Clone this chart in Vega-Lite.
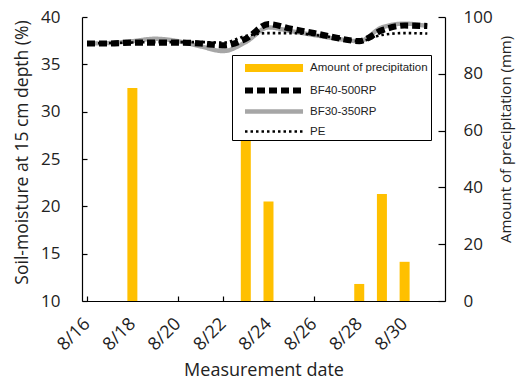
{
  "$schema": "https://vega.github.io/schema/vega-lite/v6.json",
  "width": 363,
  "height": 284,
  "autosize": {"type": "none"},
  "padding": {"left": 82, "top": 17, "right": 73, "bottom": 87},
  "config": {
    "view": {"stroke": null},
    "font": "Open Sans",
    "axis": {
      "grid": false,
      "domainColor": "black",
      "domainWidth": 1.2,
      "tickColor": "black",
      "tickWidth": 1.2,
      "labelColor": "#222222",
      "titleColor": "#222222",
      "labelFontSize": 17,
      "titleFontSize": 17.5,
      "titleFontWeight": "normal",
      "labelFont": "Open Sans",
      "titleFont": "Open Sans"
    },
    "legend": {
      "labelFont": "Liberation Sans",
      "labelFontSize": 11.5,
      "labelColor": "#222222"
    }
  },
  "datasets": {
    "rain": [
      {"day": 18, "series": "Amount of precipitation", "precip": 75},
      {"day": 23, "series": "Amount of precipitation", "precip": 59},
      {"day": 24, "series": "Amount of precipitation", "precip": 35},
      {"day": 28, "series": "Amount of precipitation", "precip": 6},
      {"day": 29, "series": "Amount of precipitation", "precip": 37.7},
      {"day": 30, "series": "Amount of precipitation", "precip": 13.8}
    ],
    "moisture": [
      {"day": 16, "series": "BF30-350RP", "value": 37.2},
      {"day": 17, "series": "BF30-350RP", "value": 37.25},
      {"day": 18, "series": "BF30-350RP", "value": 37.45},
      {"day": 19, "series": "BF30-350RP", "value": 37.7},
      {"day": 20, "series": "BF30-350RP", "value": 37.45},
      {"day": 21, "series": "BF30-350RP", "value": 36.9},
      {"day": 22, "series": "BF30-350RP", "value": 36.4},
      {"day": 23, "series": "BF30-350RP", "value": 37.35},
      {"day": 24, "series": "BF30-350RP", "value": 38.9},
      {"day": 25, "series": "BF30-350RP", "value": 38.5},
      {"day": 26, "series": "BF30-350RP", "value": 38.1},
      {"day": 27, "series": "BF30-350RP", "value": 37.7},
      {"day": 28, "series": "BF30-350RP", "value": 37.45},
      {"day": 29, "series": "BF30-350RP", "value": 38.9},
      {"day": 30, "series": "BF30-350RP", "value": 39.3},
      {"day": 31, "series": "BF30-350RP", "value": 39.05},
      {"day": 16, "series": "BF40-500RP", "value": 37.2},
      {"day": 17, "series": "BF40-500RP", "value": 37.2},
      {"day": 18, "series": "BF40-500RP", "value": 37.3},
      {"day": 19, "series": "BF40-500RP", "value": 37.3},
      {"day": 20, "series": "BF40-500RP", "value": 37.3},
      {"day": 21, "series": "BF40-500RP", "value": 37.2},
      {"day": 22, "series": "BF40-500RP", "value": 37.0},
      {"day": 23, "series": "BF40-500RP", "value": 37.7},
      {"day": 24, "series": "BF40-500RP", "value": 39.25},
      {"day": 25, "series": "BF40-500RP", "value": 38.75},
      {"day": 26, "series": "BF40-500RP", "value": 38.3},
      {"day": 27, "series": "BF40-500RP", "value": 37.8},
      {"day": 28, "series": "BF40-500RP", "value": 37.45},
      {"day": 29, "series": "BF40-500RP", "value": 38.6},
      {"day": 30, "series": "BF40-500RP", "value": 39.1},
      {"day": 31, "series": "BF40-500RP", "value": 39.05},
      {"day": 16, "series": "PE", "value": 37.2},
      {"day": 17, "series": "PE", "value": 37.25},
      {"day": 18, "series": "PE", "value": 37.3},
      {"day": 19, "series": "PE", "value": 37.35},
      {"day": 20, "series": "PE", "value": 37.35},
      {"day": 21, "series": "PE", "value": 37.35},
      {"day": 22, "series": "PE", "value": 37.3},
      {"day": 23, "series": "PE", "value": 38.0},
      {"day": 24, "series": "PE", "value": 38.3},
      {"day": 25, "series": "PE", "value": 38.3},
      {"day": 26, "series": "PE", "value": 38.1},
      {"day": 27, "series": "PE", "value": 37.8},
      {"day": 28, "series": "PE", "value": 37.45},
      {"day": 29, "series": "PE", "value": 38.1},
      {"day": 30, "series": "PE", "value": 38.3},
      {"day": 31, "series": "PE", "value": 38.25}
    ]
  },
  "layer": [
    {
      "data": {"name": "rain"},
      "mark": {"type": "bar", "width": 10},
      "encoding": {
        "x": {
          "field": "day",
          "type": "quantitative",
          "scale": {"domain": [16, 31.56], "nice": false, "zero": false},
          "axis": {
            "title": "Measurement date",
            "titleFontSize": 18,
            "values": [16, 18, 20, 22, 24, 26, 28, 30],
            "labelExpr": "'8/' + datum.value",
            "labelAngle": -45,
            "labelFontSize": 18,
            "labelBaseline": "middle",
            "tickSize": -5,
            "labelPadding": 25,
            "titlePadding": 8
          }
        },
        "y": {
          "field": "precip",
          "type": "quantitative",
          "scale": {"domain": [0, 100], "nice": false},
          "axis": {
            "orient": "right",
            "title": "Amount of precipitation (mm)",
            "titleFontSize": 15,
            "titleAngle": 270,
            "titleY": 122,
            "values": [0, 20, 40, 60, 80, 100],
            "tickSize": -7,
            "labelPadding": 25,
            "titlePadding": 21
          }
        },
        "color": {
          "field": "series",
          "type": "nominal",
          "scale": {
            "domain": ["Amount of precipitation", "BF40-500RP", "BF30-350RP", "PE"],
            "range": ["#FFC000", "#000000", "#A6A6A6", "#000000"]
          },
          "legend": {
            "title": null,
            "orient": "none",
            "legendX": 150,
            "legendY": 38,
            "symbolType": "M0,0H9.67",
            "symbolSize": 144,
            "labelOffset": 55,
            "rowPadding": 7,
            "padding": 3,
            "strokeColor": "black",
            "fillColor": "white",
            "encode": {
              "symbols": {"update": {"strokeJoin": {"value": "bevel"}, "strokeCap": {"value": "butt"}}}
            }
          }
        }
      }
    },
    {
      "data": {"name": "moisture"},
      "mark": {"type": "line", "interpolate": "monotone"},
      "encoding": {
        "x": {"field": "day", "type": "quantitative"},
        "y": {
          "field": "value",
          "type": "quantitative",
          "scale": {"domain": [10, 40], "nice": false, "zero": false},
          "axis": {
            "orient": "left",
            "title": "Soil-moisture at 15 cm depth (%)",
            "titleY": 135,
            "values": [10, 15, 20, 25, 30, 35, 40],
            "tickSize": -5,
            "labelPadding": 27,
            "titlePadding": 9
          }
        },
        "color": {"field": "series", "type": "nominal"},
        "strokeDash": {
          "field": "series",
          "type": "nominal",
          "scale": {
            "domain": ["Amount of precipitation", "BF40-500RP", "BF30-350RP", "PE"],
            "range": [[1, 0], [8, 4], [1, 0], [2.5, 3]]
          },
          "legend": {"title": null}
        },
        "strokeWidth": {
          "field": "series",
          "type": "nominal",
          "scale": {
            "domain": ["Amount of precipitation", "BF40-500RP", "BF30-350RP", "PE"],
            "range": [8, 2.6, 3.5, 2.4]
          },
          "legend": {"title": null}
        }
      }
    }
  ],
  "resolve": {"scale": {"y": "independent"}}
}
